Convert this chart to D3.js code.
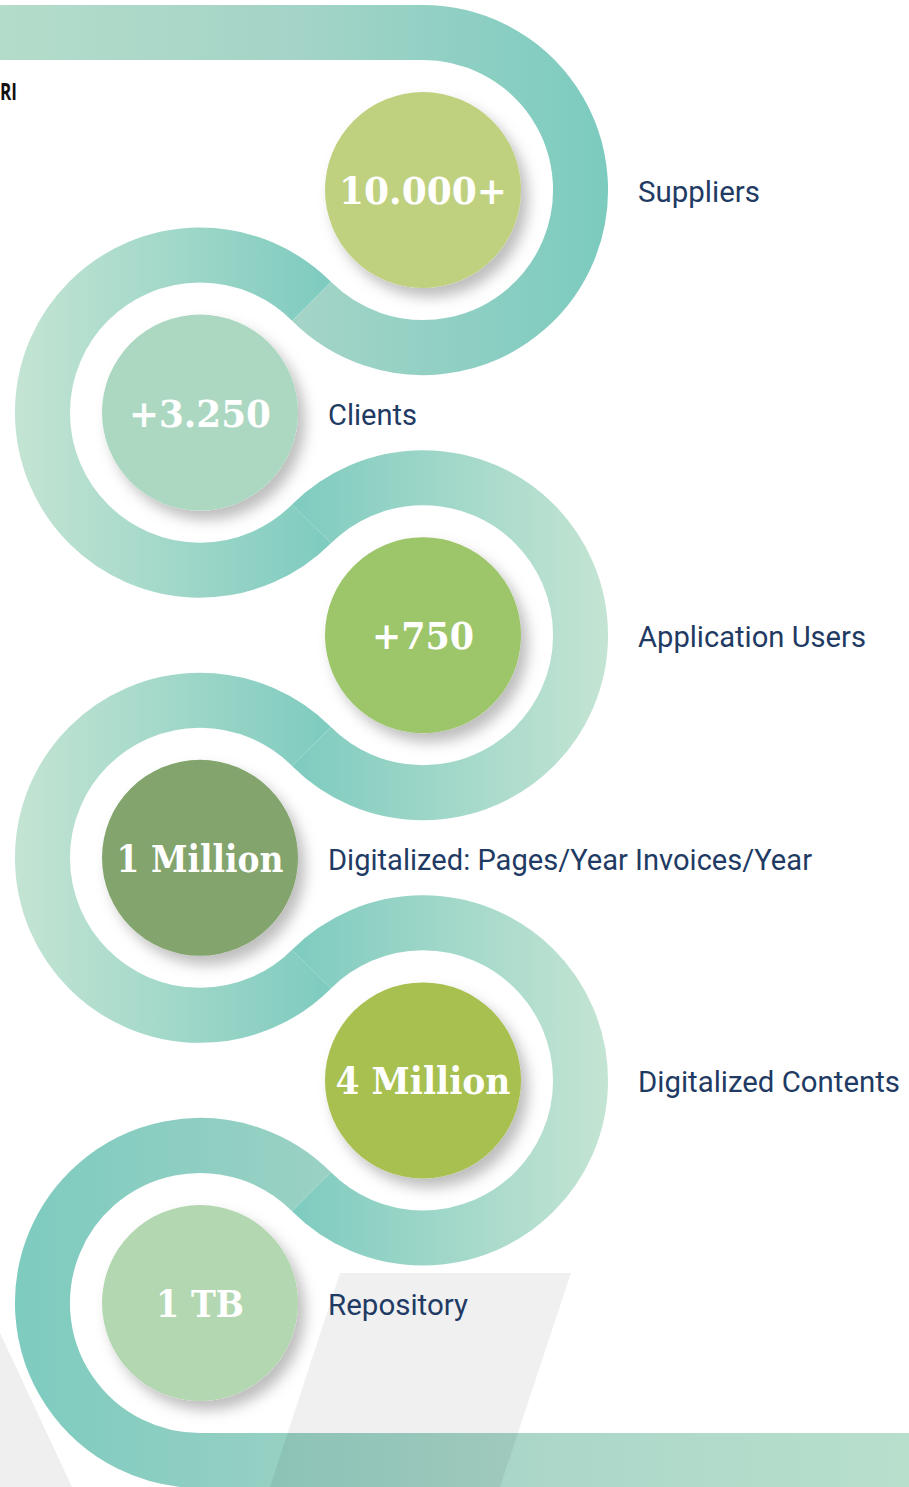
<!DOCTYPE html>
<html><head><meta charset="utf-8">
<script src="https://cdn.jsdelivr.net/npm/d3@7"></script>
<style>html,body{margin:0;padding:0;background:#fff;overflow:hidden}</style>
</head><body>
<svg id="chart" width="909" height="1487"></svg>
<script>
// ---- data ----
const values = ["10.000+", "+3.250", "+750", "1 Million", "4 Million", "1 TB"];
const labels = ["Suppliers", "Clients", "Application Users", "Digitalized: Pages/Year Invoices/Year", "Digitalized Contents", "Repository"];
const circleColors = ["#bfd17f", "#acd8c2", "#9dc56b", "#83a46d", "#a7c04f", "#b3d7b0"];
const sides = ["right", "left", "right", "left", "right", "left"];
const valueWidths = [168, 142, 102, 167, 175, 88];
const labelWidths = [122, 89, 228, 484, 262, 140];

const W = 909, H = 1487;
const svg = d3.select("#chart");
const defs = svg.append("defs");

const y = d3.scalePoint().domain(d3.range(values.length)).range([190, 1303]);
const x = d3.scaleOrdinal().domain(["left", "right"]).range([200, 423]);
const centers = values.map((v, i) => [x(sides[i]), y(i)]);
const R = Math.hypot(centers[1][0] - centers[0][0], centers[1][1] - centers[0][1]) / 2;
const SW = 55, rC = 98;

// shadow filter
const f = defs.append("filter").attr("id", "sh").attr("x", "-30%").attr("y", "-30%").attr("width", "170%").attr("height", "170%");
f.append("feDropShadow").attr("dx", 7).attr("dy", 9).attr("stdDeviation", 7).attr("flood-color", "#000").attr("flood-opacity", 0.26);

const T = "#7ecbbf", L = "#c4e4d3";
function grad(id, x1, x2, stops) {
  const g = defs.append("linearGradient").attr("id", id).attr("gradientUnits", "userSpaceOnUse")
    .attr("x1", x1).attr("x2", x2).attr("y1", 0).attr("y2", 0);
  stops.forEach(s => g.append("stop").attr("offset", s[0]).attr("stop-color", s[1]));
}
grad("g0", 0, 607, [[0, "#b4dcca"], [0.5, "#a3d4c7"], [1, "#7ccbbf"]]);
grad("gL", 16, 330, [[0, L], [1, T]]);
grad("gR", 292, 607, [[0, T], [1, L]]);
grad("g5", 16, 909, [[0, T], [0.35, "#9ad1c4"], [0.6, "#acd7c9"], [1, "#b8dfcc"]]);

// grey triangle at bottom-left (under the ribbon)
svg.append("path").attr("d", "M0,1333 L72,1487 L0,1487 Z").attr("fill", "#efefef");

const ang = (a, b) => Math.atan2(b[1] - a[1], b[0] - a[0]);
const n = centers.length;
centers.forEach((c, i) => {
  const p = d3.path();
  const right = sides[i] === "right";
  let a0, a1;
  if (i === 0) {
    p.moveTo(-5, c[1] - R);
    p.lineTo(c[0], c[1] - R);
    a0 = -Math.PI / 2;
  } else {
    a0 = ang(c, centers[i - 1]);
    p.moveTo(c[0] + R * Math.cos(a0), c[1] + R * Math.sin(a0));
  }
  a1 = i === n - 1 ? Math.PI / 2 : ang(c, centers[i + 1]);
  p.arc(c[0], c[1], R, a0, a1, !right);
  if (i === n - 1) p.lineTo(W + 5, c[1] + R);
  const g = i === 0 ? "g0" : i === n - 1 ? "g5" : right ? "gR" : "gL";
  svg.append("path").attr("d", p.toString()).attr("fill", "none")
    .attr("stroke", `url(#${g})`).attr("stroke-width", SW);
});

// grey parallelogram overlay
svg.append("path").attr("d", "M340,1273 L571,1273 L500,1487 L270,1487 Z")
  .attr("fill", "#000").attr("fill-opacity", 0.058);

// circles
const nodes = svg.selectAll("g.node").data(values).join("g").attr("class", "node")
  .attr("transform", (d, i) => `translate(${centers[i][0]},${centers[i][1]})`);
nodes.append("circle").attr("r", rC).attr("fill", (d, i) => circleColors[i]).attr("filter", "url(#sh)");
nodes.append("text").text(d => d)
  .attr("text-anchor", "middle").attr("y", 14)
  .attr("font-family", "'DejaVu Serif', serif").attr("font-weight", "bold")
  .attr("font-size", 38).attr("fill", "#fff")
  .attr("textLength", (d, i) => valueWidths[i]).attr("lengthAdjust", "spacingAndGlyphs");

// labels
svg.selectAll("text.lab").data(labels).join("text").attr("class", "lab")
  .text(d => d)
  .attr("x", (d, i) => sides[i] === "right" ? 638 : 328)
  .attr("y", (d, i) => centers[i][1] + 12)
  .attr("font-family", "Roboto, 'Noto Sans', sans-serif").attr("font-size", 29)
  .attr("fill", "#1f3b64")
  .attr("textLength", (d, i) => labelWidths[i]).attr("lengthAdjust", "spacingAndGlyphs");

// cut-off title fragment
svg.append("text").text("RI").attr("x", 0).attr("y", 100)
  .attr("font-family", "'Open Sans', 'Liberation Sans', sans-serif").attr("font-weight", "bold")
  .attr("font-size", 23).attr("fill", "#111")
  .attr("textLength", 17).attr("lengthAdjust", "spacingAndGlyphs");
</script>
</body></html>
